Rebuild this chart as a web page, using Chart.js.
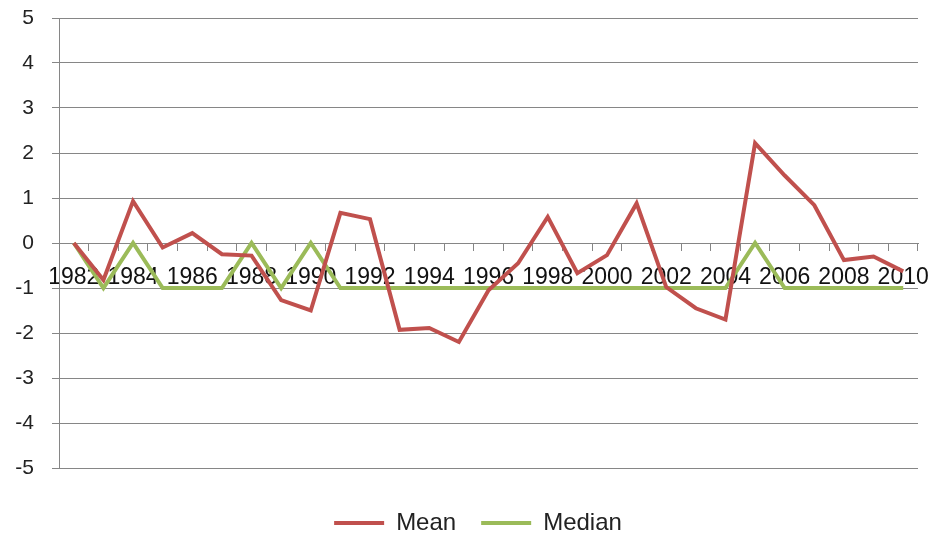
<!DOCTYPE html>
<html>
<head>
<meta charset="utf-8">
<script src="https://cdn.jsdelivr.net/npm/chart.js@4"></script>
<style>
html,body{margin:0;padding:0;background:#fff;}
#wrap{width:930px;height:538px;}
</style>
</head>
<body>
<div id="wrap"><canvas id="c"></canvas></div>
<script>
const years = [1982,1983,1984,1985,1986,1987,1988,1989,1990,1991,1992,1993,1994,1995,1996,1997,1998,1999,2000,2001,2002,2003,2004,2005,2006,2007,2008,2009,2010];
const meanValues = [0,-0.82,0.93,-0.1,0.22,-0.25,-0.28,-1.27,-1.5,0.67,0.53,-1.93,-1.89,-2.2,-1.05,-0.45,0.58,-0.67,-0.27,0.88,-0.98,-1.45,-1.7,2.22,1.5,0.84,-0.38,-0.3,-0.63];
const medianValues = [0,-1,0,-1,-1,-1,0,-1,0,-1,-1,-1,-1,-1,-1,-1,-1,-1,-1,-1,-1,-1,-1,0,-1,-1,-1,-1,-1];
const yTicks = [-5,-4,-3,-2,-1,0,1,2,3,4,5];

const FONT = "'Liberation Sans', Arial, sans-serif";
const shiftLegend = {
  id:'shiftLegend',
  afterLayout(chart){ if (chart.legend) { chart.legend.left += 14; chart.legend.right += 14; } }
};
new Chart(document.getElementById('c'), {
  type: 'line',
  data: {
    labels: years.map(String),
    datasets: [
      {label:'Mean', data: meanValues, borderColor:'#C0504D', backgroundColor:'#C0504D', borderWidth:4, pointRadius:0, tension:0},
      {label:'Median', data: medianValues, borderColor:'#9BBB59', backgroundColor:'#9BBB59', borderWidth:4, pointRadius:0, tension:0}
    ]
  },
  plugins:[shiftLegend],
  options: {
    responsive:true, maintainAspectRatio:false, animation:false,
    layout:{padding:{left:10, right:12, top:18, bottom:-7}},
    plugins:{
      legend:{position:'bottom',
        title:{display:true, text:' ', font:{size:10}, padding:{top:6, bottom:0}},
        labels:{usePointStyle:true, pointStyle:'line', pointStyleWidth:50, boxWidth:50, padding:25, color:'#222', font:{family:FONT, size:24}}},
      tooltip:{enabled:false}
    },
    scales:{
      x:{
        position:{y:0},
        offset:true,
        afterFit: s => { s.paddingLeft = 0; s.paddingRight = 0; s.paddingTop = 0; s.paddingBottom = 0; },
        grid:{display:true, offset:true, drawOnChartArea:false, drawTicks:true, tickLength:7, color:'#868686'},
        border:{display:true, color:'#868686', width:1},
        ticks:{autoSkip:false, maxRotation:0, minRotation:0, padding:14, color:'#111', font:{family:FONT, size:23},
          callback:function(v, i){ return i % 2 === 0 ? this.getLabelForValue(v) : ''; }}
      },
      y:{
        min:-5, max:5,
        afterBuildTicks: s => { s.ticks = yTicks.map(v => ({value:v})); },
        afterFit: s => { s.width = 49; s.paddingTop = 0; s.paddingBottom = 0; },
        grid:{color:'#868686', tickLength:7, lineWidth:1},
        border:{display:true, color:'#868686'},
        ticks:{padding:18, color:'#222', font:{family:FONT, size:21}}
      }
    }
  }
});
</script>
</body>
</html>
